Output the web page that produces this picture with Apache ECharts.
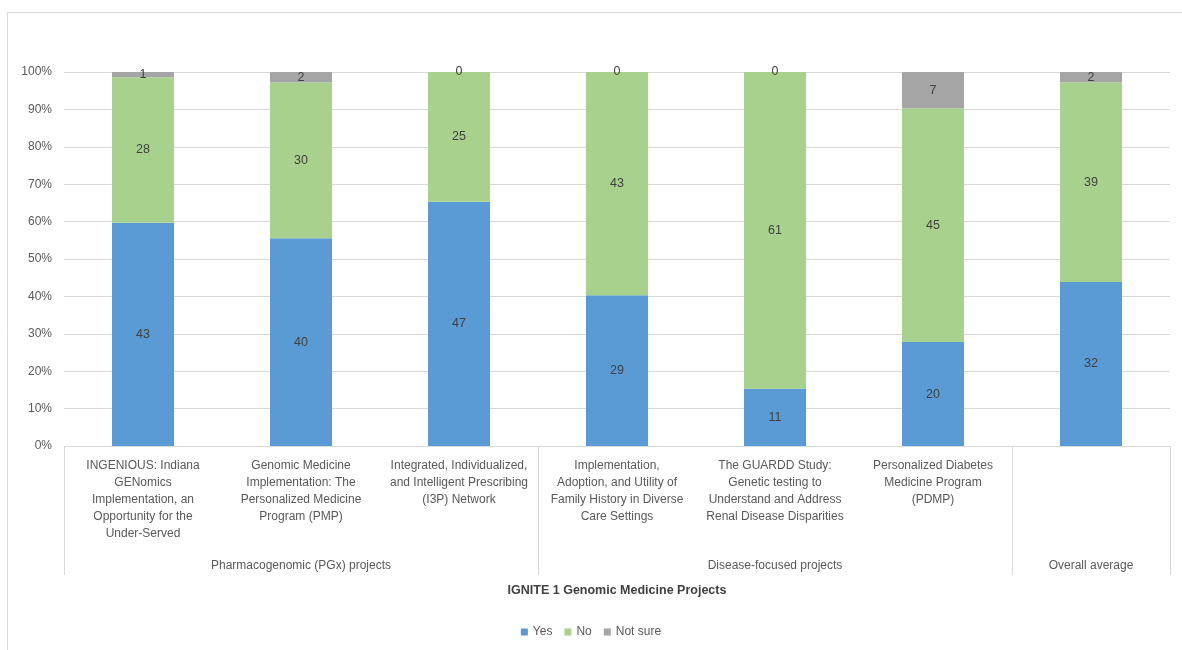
<!DOCTYPE html>
<html><head><meta charset="utf-8">
<script src="https://cdn.jsdelivr.net/npm/echarts@6/dist/echarts.min.js"></script>
<style>html,body{margin:0;padding:0;background:#fff}#c{width:1182px;height:650px}</style>
</head><body><div id="c"></div>
<script>
const categories = [
  'INGENIOUS: Indiana\nGENomics\nImplementation, an\nOpportunity for the\nUnder-Served',
  'Genomic Medicine\nImplementation: The\nPersonalized Medicine\nProgram (PMP)',
  'Integrated, Individualized,\nand Intelligent Prescribing\n(I3P) Network',
  'Implementation,\nAdoption, and Utility of\nFamily History in Diverse\nCare Settings',
  'The GUARDD Study:\nGenetic testing to\nUnderstand and Address\nRenal Disease Disparities',
  'Personalized Diabetes\nMedicine Program\n(PDMP)',
  ''
];
const groupLabels = ['', 'Pharmacogenomic (PGx) projects', '', '', 'Disease-focused projects', '', 'Overall average'];
const groupStarts = [0, 3, 6];
const yesCounts = [43, 40, 47, 29, 11, 20, 32];
const noCounts = [28, 30, 25, 43, 61, 45, 39];
const notSureCounts = [1, 2, 0, 0, 0, 7, 2];
const seriesNames = ['Yes', 'No', 'Not sure'];
const colors = ['#5B9BD5', '#A9D18E', '#A5A5A5'];
const yTicks = [0, 10, 20, 30, 40, 50, 60, 70, 80, 90, 100];
const axisTitle = 'IGNITE 1 Genomic Medicine Projects';

const counts = [yesCounts, noCounts, notSureCounts];
const totals = yesCounts.map((v, i) => v + noCounts[i] + notSureCounts[i]);
const font = "'Liberation Sans', 'DejaVu Sans', sans-serif";

const chart = echarts.init(document.getElementById('c'));
chart.setOption({
  animation: false,
  textStyle: { fontFamily: font },
  color: colors,
  graphic: [{
    type: 'rect', shape: { x: 7.5, y: 12.5, width: 1180, height: 640 },
    style: { fill: 'none', stroke: '#d9d9d9', lineWidth: 1 }, silent: true
  }],
  legend: {
    data: seriesNames, bottom: 7, left: 'center', icon: 'rect',
    itemWidth: 7, itemHeight: 7, itemGap: 12,
    textStyle: { color: '#595959', fontSize: 12, fontFamily: font }
  },
  grid: { left: 64, right: 12, top: 72, bottom: 204, containLabel: false },
  xAxis: [{
    type: 'category', data: categories, position: 'bottom',
    axisLine: { lineStyle: { color: '#d9d9d9' } },
    axisTick: { show: true, length: 129, interval: (i) => groupStarts.includes(i), lineStyle: { color: '#d9d9d9' } },
    axisLabel: { interval: 0, color: '#595959', fontSize: 12, lineHeight: 17, margin: 11, fontFamily: font, verticalAlign: 'top' },
    name: axisTitle, nameLocation: 'middle', nameGap: 138,
    nameTextStyle: { fontWeight: 'bold', color: '#404040', fontSize: 12.5, fontFamily: font }
  }, {
    type: 'category', data: groupLabels, position: 'bottom', offset: 106,
    axisLine: { show: false }, axisTick: { show: false },
    axisLabel: { interval: 0, color: '#595959', fontSize: 12, margin: 8, fontFamily: font }
  }],
  yAxis: {
    type: 'value', min: yTicks[0], max: yTicks[yTicks.length - 1], interval: yTicks[1] - yTicks[0],
    axisLine: { show: false }, axisTick: { show: false },
    axisLabel: { formatter: '{value}%', color: '#595959', fontSize: 12, margin: 12, fontFamily: font },
    splitLine: { lineStyle: { color: '#d9d9d9' } }
  },
  series: seriesNames.map((name, s) => ({
    name, type: 'bar', stack: 'total', xAxisIndex: 0, barWidth: 62,
    data: counts[s].map((v, i) => v / totals[i] * 100),
    label: {
      show: true, position: 'inside', color: '#404040', fontSize: 12.5, fontFamily: font,
      formatter: (p) => String(counts[s][p.dataIndex])
    }
  }))
});
</script></body></html>
